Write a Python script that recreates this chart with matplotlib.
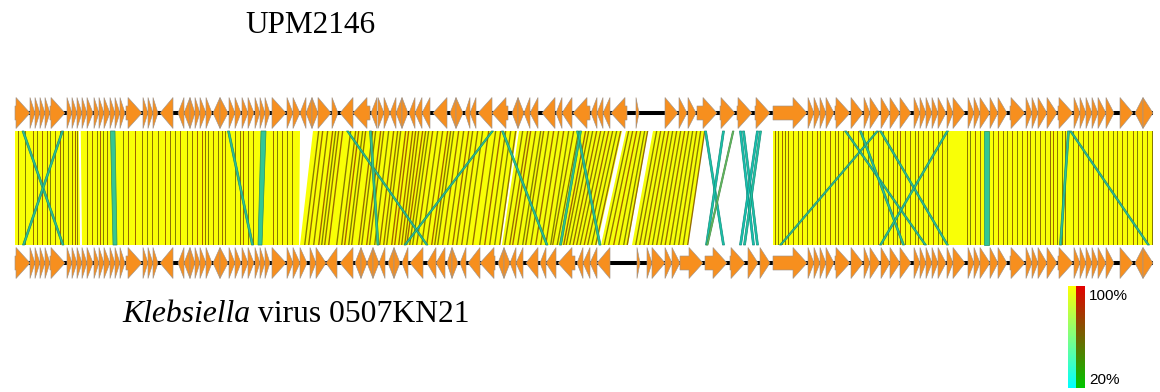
import matplotlib
matplotlib.use('Agg')
import matplotlib.pyplot as plt
from matplotlib.patches import Polygon
from matplotlib.colors import LinearSegmentedColormap
import numpy as np

# ---------------- data (genome coordinates in kb) ----------------
top_name = "UPM2146"
bottom_name_italic = "Klebsiella"
bottom_name_rest = " virus 0507KN21"
genome_len = 45.52

# genes (start, end, strand) shared by both genomes on the left part
shared_left_genes = [
    (0.00, 0.60, 1), (0.60, 0.80, 1), (0.80, 1.00, 1), (1.00, 1.20, 1), (1.20, 1.40, 1),
    (1.40, 2.00, 1), (2.08, 2.28, 1), (2.28, 2.48, 1), (2.48, 2.68, 1), (2.68, 2.88, 1),
    (2.88, 3.12, 1), (3.16, 3.36, 1), (3.36, 3.56, 1), (3.56, 3.80, 1), (3.80, 4.00, 1),
    (4.00, 4.20, 1), (4.20, 4.40, 1), (4.44, 5.08, 1), (5.12, 5.32, 1), (5.32, 5.52, 1),
    (5.52, 5.72, 1), (5.80, 6.32, -1), (6.52, 6.76, -1), (6.76, 7.00, -1), (7.00, 7.20, 1),
    (7.20, 7.40, 1), (7.40, 7.64, 1), (7.64, 7.88, 1), (7.92, 8.20, -1), (8.20, 8.52, 1),
    (8.56, 8.80, 1), (8.80, 9.04, 1), (9.08, 9.32, 1), (9.32, 9.56, 1), (9.60, 9.80, 1),
    (9.80, 10.00, 1), (10.00, 10.20, 1), (10.28, 10.84, 1), (10.88, 11.12, 1), (11.12, 11.40, 1),
]
top_mid_genes = [
    (11.40, 11.64, -1), (11.64, 11.88, -1), (11.88, 12.12, 1), (12.12, 12.64, 1), (12.68, 12.92, 1),
    (13.00, 13.52, -1), (13.52, 14.20, -1), (14.24, 14.48, -1), (14.52, 14.76, 1), (14.76, 15.00, 1),
    (15.00, 15.24, -1), (15.24, 15.48, -1), (15.48, 15.72, 1), (15.76, 16.00, -1), (16.00, 16.28, -1),
    (16.28, 16.60, -1), (16.72, 17.28, -1), (17.40, 17.64, -1), (17.64, 17.92, 1), (18.00, 18.20, -1),
    (18.20, 18.44, -1), (18.52, 19.08, -1), (19.08, 19.72, -1), (19.88, 20.12, -1), (20.12, 20.36, 1),
    (20.36, 20.60, -1), (20.60, 20.92, -1), (21.08, 21.60, -1), (21.64, 21.88, -1), (21.88, 22.28, -1),
    (22.32, 23.00, -1), (23.04, 23.28, -1), (23.28, 23.52, -1), (23.52, 23.80, -1), (23.84, 24.48, -1),
    (24.84, 24.96, 1), (26.00, 26.52, 1), (26.56, 26.88, 1), (26.92, 27.24, 1), (27.28, 28.08, 1),
    (28.20, 28.80, 1), (28.88, 29.48, 1), (29.60, 30.20, 1),
]
bottom_mid_genes = [
    (11.40, 11.68, 1), (11.80, 12.04, 1), (12.04, 12.44, 1), (12.44, 12.88, -1), (13.00, 13.52, -1),
    (13.60, 13.84, -1), (13.84, 14.08, 1), (14.08, 14.32, -1), (14.32, 14.56, 1), (14.56, 14.80, -1),
    (14.92, 15.16, -1), (15.16, 15.40, 1), (15.48, 15.72, -1), (15.80, 16.32, -1), (16.48, 16.84, -1),
    (16.84, 17.20, -1), (17.28, 17.48, -1), (17.48, 17.72, 1), (17.80, 18.04, -1), (18.12, 18.60, -1),
    (18.60, 19.20, -1), (19.32, 19.56, -1), (19.56, 19.80, 1), (19.80, 20.04, -1), (20.04, 20.32, -1),
    (20.44, 20.92, -1), (21.00, 21.24, -1), (21.24, 21.64, -1), (21.72, 22.40, -1), (22.48, 22.72, -1),
    (22.72, 23.00, -1), (23.00, 23.28, -1), (23.28, 23.80, -1), (24.88, 25.00, 1), (25.28, 25.48, 1),
    (25.48, 26.00, 1), (26.00, 26.28, 1), (26.28, 26.60, 1), (26.60, 27.52, 1), (27.60, 28.48, 1),
    (28.60, 29.20, 1), (29.32, 29.72, 1), (29.80, 30.20, 1),
]
shared_right_genes = [
    (30.32, 31.68, 1), (31.72, 31.96, 1), (31.96, 32.20, 1), (32.20, 32.44, 1), (32.44, 32.76, 1),
    (32.80, 33.40, 1), (33.44, 33.92, 1), (33.96, 34.20, 1), (34.20, 34.60, 1), (34.64, 35.00, 1),
    (35.00, 35.40, 1), (35.40, 35.84, 1), (35.96, 36.20, 1), (36.20, 36.44, 1), (36.44, 36.68, 1),
    (36.68, 36.92, 1), (36.92, 37.24, 1), (37.28, 37.52, 1), (37.52, 38.00, 1), (38.12, 38.36, 1),
    (38.36, 38.60, 1), (38.60, 39.00, 1), (39.00, 39.32, 1), (39.32, 39.68, 1), (39.80, 40.40, 1),
    (40.44, 40.68, 1), (40.68, 40.92, 1), (40.92, 41.28, 1), (41.28, 41.68, 1), (41.72, 42.32, 1),
    (42.36, 42.60, 1), (42.60, 42.84, 1), (42.84, 43.08, 1), (43.08, 43.32, 1), (43.32, 43.64, 1),
    (43.64, 43.96, 1), (44.20, 44.72, 1), (44.80, 45.12, -1), (45.12, 45.52, 1),
]

# main BLAST blocks (top_start, top_end, bottom_start, bottom_end, identity %)
block_hits = [
    (0.00, 2.55, 0.00, 2.60, 98), (2.63, 11.40, 2.68, 11.36, 98),
    (11.92, 20.08, 11.40, 19.40, 98), (20.16, 24.28, 19.48, 23.28, 97),
    (24.44, 25.32, 23.44, 24.52, 97), (25.52, 27.60, 24.68, 26.92, 97),
    (30.32, 45.52, 30.32, 45.52, 98),
]

# narrow lower-identity hits inside the blocks
left_line_pos = [0.12, 0.40, 0.72, 0.88, 1.08, 1.28, 1.40, 1.60, 1.80, 1.92,
                 2.12, 2.28, 2.40, 2.48, 2.88, 3.08, 3.28, 3.40, 3.52, 3.68,
                 4.32, 4.52, 4.80, 5.08, 5.28, 5.48, 5.72, 6.00, 6.20, 6.40,
                 6.60, 6.88, 7.08, 7.28, 7.48, 7.60, 7.72, 7.92, 8.12, 8.28,
                 8.40, 8.80, 9.00, 9.12, 9.32, 9.52, 10.32, 10.48, 10.68, 10.88,
                 11.08]
left_line_id = [62, 58, 66, 60, 70, 64, 58, 62, 68, 60,
                55, 64, 70, 58, 62, 66, 60, 72, 58, 64,
                60, 66, 70, 62, 58, 64, 60, 68, 62, 58,
                66, 60, 64, 70, 72, 62, 58, 64, 60, 66,
                62, 58, 64, 70, 60, 62, 66, 58, 64, 60,
                62]
mid_line_top = [12.12, 12.28, 12.48, 12.68, 12.80, 12.92, 13.08, 13.40, 13.60, 13.72,
                13.88, 14.00, 14.28, 14.40, 14.60, 14.72, 14.92, 15.12, 15.28, 15.40,
                15.60, 15.72, 15.88, 16.00, 16.12, 16.28, 16.40, 16.52, 16.68, 16.88,
                17.08, 17.28, 17.40, 17.52, 17.72, 17.92, 18.12, 18.28, 18.48, 18.68,
                18.92, 19.20, 19.40, 19.60, 19.80, 20.00, 20.28, 20.48, 20.60, 20.80,
                21.00, 21.12, 21.32, 21.52, 21.72, 21.92, 22.12, 22.32, 22.52, 22.80,
                22.92, 23.08, 23.24, 23.40, 23.56, 23.72, 23.88, 24.04, 24.20, 24.52,
                24.68, 24.84, 25.00, 25.16, 25.28, 25.64, 25.80, 25.96, 26.12, 26.28,
                26.44, 26.60, 26.76, 26.92, 27.08, 27.24, 27.40, 27.56]
mid_line_bot = [11.56, 11.72, 11.92, 12.12, 12.24, 12.36, 12.52, 12.84, 13.04, 13.16,
                13.32, 13.44, 13.72, 13.84, 14.04, 14.16, 14.36, 14.56, 14.72, 14.84,
                15.04, 15.16, 15.32, 15.44, 15.56, 15.64, 15.76, 15.88, 16.04, 16.24,
                16.44, 16.64, 16.76, 16.88, 17.08, 17.28, 17.48, 17.64, 17.84, 18.04,
                18.28, 18.56, 18.76, 18.96, 19.16, 19.36, 19.56, 19.76, 19.88, 20.08,
                20.28, 20.40, 20.60, 20.80, 21.00, 21.20, 21.40, 21.48, 21.66, 21.92,
                22.02, 22.16, 22.30, 22.44, 22.58, 22.74, 22.88, 23.04, 23.20, 23.54,
                23.72, 23.92, 24.12, 24.32, 24.46, 24.80, 24.96, 25.13, 25.30, 25.47,
                25.64, 25.81, 25.98, 26.16, 26.34, 26.52, 26.70, 26.88]
mid_line_id = [60, 66, 62, 70, 58, 64, 68, 60, 62, 72,
               58, 64, 66, 60, 70, 62, 58, 66, 64, 60,
               70, 72, 68, 66, 64, 70, 62, 58, 66, 60,
               64, 70, 62, 58, 66, 60, 68, 62, 64, 58,
               66, 60, 70, 62, 58, 64, 60, 66, 70, 62,
               58, 64, 60, 68, 62, 66, 58, 64, 60, 70,
               62, 58, 66, 64, 60, 68, 62, 58, 66, 60,
               64, 70, 62, 58, 66, 60, 64, 62, 68, 58,
               64, 60, 66, 62, 58, 64, 60, 66]
right_line_pos = [30.40, 30.52, 30.68, 30.80, 30.92, 31.12, 31.32, 31.48, 31.68, 31.88,
                  32.08, 32.20, 32.40, 32.60, 32.80, 32.92, 33.12, 33.32, 33.52, 33.72,
                  33.92, 34.12, 34.32, 34.52, 34.72, 34.92, 35.12, 35.28, 35.40, 35.60,
                  35.80, 36.00, 36.12, 36.32, 36.52, 36.72, 36.92, 37.08, 37.28, 38.08,
                  38.20, 38.40, 38.60, 39.12, 39.32, 39.52, 39.68, 39.88, 40.08, 40.28,
                  40.48, 40.60, 40.80, 41.00, 41.20, 41.40, 41.52, 41.68, 41.88, 42.00,
                  42.32, 42.52, 42.72, 42.92, 43.12, 43.32, 43.52, 43.72, 43.92, 44.08,
                  44.28, 44.48, 44.72, 44.88, 45.08, 45.28, 45.48]
right_line_id = [64, 58, 70, 60, 66, 62, 58, 68, 60, 64,
                 70, 58, 62, 66, 60, 64, 58, 70, 62, 66,
                 60, 58, 64, 68, 62, 58, 66, 60, 70, 62,
                 64, 58, 66, 60, 62, 68, 58, 64, 60, 62,
                 58, 66, 64, 60, 70, 62, 58, 66, 60, 64,
                 68, 62, 58, 64, 60, 66, 70, 62, 58, 64,
                 60, 66, 62, 58, 70, 64, 60, 66, 58, 62,
                 64, 60, 66, 58, 62, 64, 60]

# low-identity (rearranged / divergent) hits
cross_hits = [
    (0.28, 0.36, 1.88, 1.96, 36), (1.86, 1.94, 0.30, 0.38, 36), (8.50, 8.58, 9.46, 9.54, 36),
    (3.82, 4.00, 3.92, 4.08, 42), (9.84, 10.04, 9.72, 9.88, 40),
    (13.26, 13.34, 16.44, 16.52, 36), (14.18, 14.26, 14.48, 14.56, 40),
    (19.06, 19.14, 15.56, 15.64, 36), (19.46, 19.54, 21.24, 21.32, 36),
    (22.46, 22.54, 23.36, 23.44, 36), (22.58, 22.66, 21.78, 21.86, 38),
    (27.58, 27.66, 28.30, 28.38, 30), (28.30, 28.38, 27.62, 27.70, 30),
    (28.70, 28.76, 27.66, 27.72, 60), (28.98, 29.06, 29.50, 29.58, 28),
    (29.10, 29.18, 29.66, 29.74, 30), (29.66, 29.74, 28.98, 29.06, 28),
    (29.78, 29.86, 29.14, 29.22, 32),
    (34.46, 34.54, 30.58, 30.66, 36), (33.18, 33.26, 36.38, 36.46, 36),
    (33.78, 33.86, 35.50, 35.58, 36), (34.58, 34.66, 37.26, 37.34, 36),
    (37.26, 37.34, 34.58, 34.66, 36), (38.76, 38.96, 38.76, 38.96, 40),
    (42.10, 42.18, 41.78, 41.86, 36), (42.18, 42.26, 45.30, 45.38, 36),
]

legend_labels = ["100%", "20%"]
id_min, id_max = 20, 100

# ---------------- styles ----------------
W, H = 1160, 392
ORANGE = '#F78F1E'
Y_TOP, Y_BOT = 113, 263          # track centres (pixel rows)
HALF_H = 15.5
BODY_H = 7.0
HEAD = 0.56                     # arrow head length (kb)
BAND_TOP, BAND_BOT = 131, 245

cm_fwd = LinearSegmentedColormap.from_list('yc', [(0, 1, 1), (1, 1, 0)])
cm_rev = LinearSegmentedColormap.from_list('rg', [(0, 0.78, 0), (0.9, 0, 0)])


def norm(v):
    return (v - id_min) / (id_max - id_min)


fig = plt.figure(figsize=(W / 100, H / 100), dpi=100)
ax = fig.add_axes([0, 0, 1, 1])
ax.set_xlim(-0.6, 45.8)
ax.set_ylim(H, 0)
ax.axis('off')


def draw_gene(s, e, strand, yc):
    L = e - s
    if strand > 0:
        if L > HEAD:
            pts = [(s, yc - BODY_H), (e - HEAD, yc - BODY_H), (e - HEAD, yc - HALF_H), (e, yc),
                   (e - HEAD, yc + HALF_H), (e - HEAD, yc + BODY_H), (s, yc + BODY_H)]
        else:
            pts = [(s, yc - HALF_H), (e, yc), (s, yc + HALF_H)]
    else:
        if L > HEAD:
            pts = [(e, yc - BODY_H), (s + HEAD, yc - BODY_H), (s + HEAD, yc - HALF_H), (s, yc),
                   (s + HEAD, yc + HALF_H), (s + HEAD, yc + BODY_H), (e, yc + BODY_H)]
        else:
            pts = [(e, yc - HALF_H), (s, yc), (e, yc + HALF_H)]
    ax.add_patch(Polygon(pts, closed=True, facecolor=ORANGE, edgecolor='#a0948a',
                         linewidth=0.45, zorder=3))


def draw_track(genes, yc):
    ax.plot([0, genome_len], [yc, yc], color='black', lw=2.9, solid_capstyle='butt', zorder=2)
    for s, e, st in genes:
        draw_gene(s, e, st, yc)


draw_track(shared_left_genes + top_mid_genes + shared_right_genes, Y_TOP)
draw_track(shared_left_genes + bottom_mid_genes + shared_right_genes, Y_BOT)


def hit(t0, t1, b0, b1, color, z, alpha=1.0, ec='none', lw=0):
    ax.add_patch(Polygon([(t0, BAND_TOP), (t1, BAND_TOP), (b1, BAND_BOT), (b0, BAND_BOT)],
                         closed=True, facecolor=color, edgecolor=ec, linewidth=lw,
                         alpha=alpha, zorder=z))


for t0, t1, b0, b1, ident in block_hits:
    hit(t0, t1, b0, b1, cm_fwd(norm(ident)), 1)

LW = 0.055
for p, ident in zip(left_line_pos, left_line_id):
    hit(p, p + LW, p, p + LW, cm_rev(norm(ident)), 1.2, alpha=0.85)
for t, b, ident in zip(mid_line_top, mid_line_bot, mid_line_id):
    hit(t, t + LW, b, b + LW, cm_rev(norm(ident)), 1.2, alpha=0.85)
for p, ident in zip(right_line_pos, right_line_id):
    hit(p, p + LW, p, p + LW, cm_rev(norm(ident)), 1.2, alpha=0.85)

for t0, t1, b0, b1, ident in cross_hits:
    c = np.array(cm_fwd(norm(ident))[:3])
    hit(t0, t1, b0, b1, tuple(c * 0.78), 1.5, ec=tuple(c * 0.55), lw=0.5)

# ---------------- texts ----------------
fig.text(245 / W, 1 - 33 / H, top_name, family='Liberation Serif', fontsize=22.5,
         va='baseline', ha='left')
t1 = fig.text(122 / W, 1 - 322 / H, bottom_name_italic, family='Liberation Serif',
              fontstyle='italic', fontsize=22.8, va='baseline', ha='left')
fig.canvas.draw()
bb = t1.get_window_extent()
fig.text(bb.x1 / W, 1 - 322 / H, bottom_name_rest, family='Liberation Serif', fontsize=22.8,
         va='baseline', ha='left')

# ---------------- identity legend ----------------
cax = fig.add_axes([1068 / W, 1 - 388 / H, 17 / W, 102 / H])
grad = np.linspace(1, 0, 120)
img = np.zeros((120, 2, 4))
img[:, 0, :] = cm_fwd(grad)
img[:, 1, :] = cm_rev(grad)
cax.imshow(img, aspect='auto', interpolation='nearest')
cax.axis('off')
fig.text(1089 / W, 1 - 296 / H, legend_labels[0], family='Liberation Sans', fontsize=11,
         va='center', ha='left')
fig.text(1089 / W, 1 - 380 / H, legend_labels[1], family='Liberation Sans', fontsize=11,
         va='center', ha='left')

fig.savefig('out.png', dpi=100)
